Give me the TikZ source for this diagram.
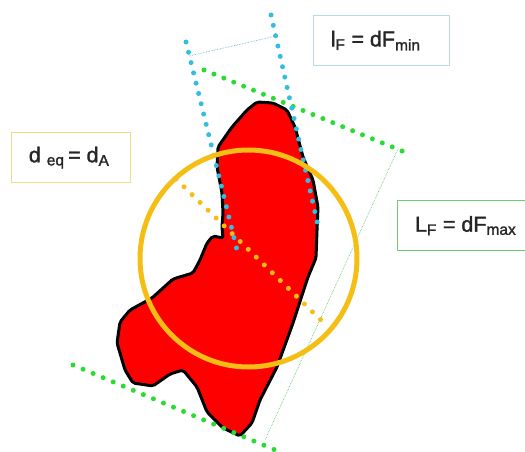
\documentclass[tikz,border=0pt]{standalone}
\usepackage{fontspec}
\setmainfont[FakeBold=1.5]{Liberation Sans}
\definecolor{gr}{RGB}{40,220,50}
\definecolor{bl}{RGB}{50,190,225}
\definecolor{ye}{RGB}{245,190,20}
\definecolor{ybox}{RGB}{232,224,130}
\definecolor{bbox}{RGB}{185,218,232}
\definecolor{gbox}{RGB}{110,205,110}
\tikzset{
  x=1pt,y=-1pt,
  dots/.style={line width=5pt,line cap=round,dash pattern=on 0pt off #1},
  thin blue/.style={draw=bl!70!gray,line width=.6pt,densely dotted},
  thin green/.style={draw=gr!70!gray,line width=.6pt,densely dotted},
  lab/.style={draw=#1,line width=1.3pt,fill=white,minimum height=50pt,anchor=north west,inner sep=0pt,font=\fontsize{21.5}{23}\selectfont,text=black!85},
}
\newcommand{\sbs}[1]{\textsubscript{\fontsize{15.5}{15.5}\selectfont #1}}
\begin{document}
\begin{tikzpicture}
\useasboundingbox (0,0) rectangle (525,452);
\draw[fill=red,draw=black,line width=3pt,line join=round,rounded corners=2pt]
 (257,102) -- (273,103) -- (287,110) -- (295,127) -- (303,157) -- (313,180) -- (318,207) -- (317,230) -- (316,258)
 -- (308,277) -- (293,323) -- (277,367) -- (260,400) -- (252,423) -- (240,436) -- (223,428) -- (207,412)
 -- (197,387) -- (183,370) -- (170,374) -- (153,386) -- (133,383) -- (125,370) -- (117,343) -- (120,322)
 -- (130,310) -- (152,298) -- (173,279) -- (193,273) -- (200,260) -- (207,243) -- (213,236) -- (223,238)
 -- (222,227) -- (223,213) -- (222,193) -- (217,167) -- (218,147) -- (232,127) -- (247,110) -- cycle;
\coordinate (b1a) at (186,42); \coordinate (b1b) at (237,250);
\coordinate (b2a) at (271,15); \coordinate (b2b) at (318,226);
\coordinate (g1a) at (204,70); \coordinate (g1b) at (412,155);
\coordinate (g2a) at (73,365); \coordinate (g2b) at (280,452);
\coordinate (y1a) at (176,179); \coordinate (y1b) at (326,325);
\draw[thin blue] (189,56) -- (276,36);
\draw[thin green] (398,149) -- (265,440);
\draw[dots=10.7pt,gr] (g1a) -- (g1b);
\draw[dots=10.9pt,gr] (g2a) -- (g2b);
\draw[dots=11.2pt,ye] (y1a) -- (y1b);
\draw[dots=10.6pt,bl] (b1a) -- (b1b);
\draw[dots=10.6pt,bl] (b2a) -- (b2b);
\node[circle,draw=ye,line width=5pt,minimum size=217pt,inner sep=0pt] (eq) at (248.5,258.5) {};
\node[lab=ybox,minimum width=119pt] (a) at (11,132) {\raisebox{3pt}{\hspace*{-4pt}d \sbs{eq}\,= d\sbs{A}}};
\node[lab=bbox,minimum width=136pt] (b) at (313,15) {\raisebox{3pt}{\hspace*{-12pt}l\sbs{F} = dF\sbs{min}}};
\node[lab=gbox,minimum width=128pt] (c) at (397,200) {\raisebox{1pt}{\hspace*{8pt}L\sbs{F} = dF\sbs{max}}};
\end{tikzpicture}
\end{document}
